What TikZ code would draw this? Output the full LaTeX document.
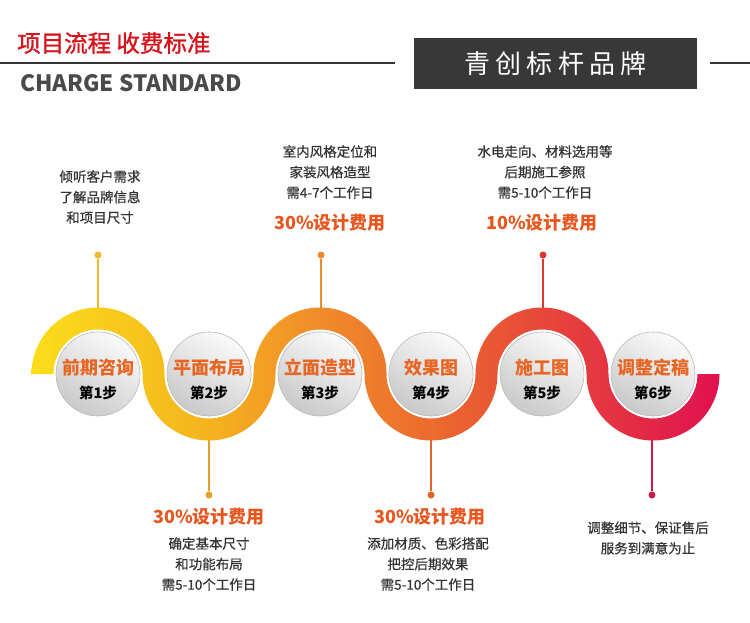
\documentclass[tikz,border=0pt]{standalone}
\usepackage{fontspec}
\setmainfont{Noto Sans CJK SC}
\newfontfamily\brandfont[LetterSpace=20]{Noto Sans CJK SC}
\newfontfamily\notefont[FakeBold=0.6]{Noto Sans CJK SC}
\newfontfamily\headfont[FakeBold=1.2]{Noto Sans CJK SC}
\usetikzlibrary{calc,positioning}
\definecolor{titlered}{RGB}{215,20,28}
\definecolor{textgray}{RGB}{52,52,52}
\definecolor{engray}{RGB}{74,74,74}
\definecolor{boxgray}{RGB}{56,56,56}
\definecolor{feeorange}{RGB}{232,86,30}
\definecolor{steporange}{RGB}{232,102,36}
\definecolor{wave1}{RGB}{250,222,26}
\definecolor{wave2}{RGB}{245,178,30}
\definecolor{wave3}{RGB}{240,139,43}
\definecolor{wave4}{RGB}{236,107,45}
\definecolor{wave5}{RGB}{231,72,58}
\definecolor{wave6}{RGB}{224,17,79}
\definecolor{linkA}{RGB}{242,184,41}
\definecolor{linkB}{RGB}{229,160,42}
\definecolor{linkC}{RGB}{238,138,43}
\definecolor{linkD}{RGB}{224,101,38}
\definecolor{linkE}{RGB}{224,57,42}
\definecolor{linkF}{RGB}{208,26,69}
\pgfdeclarehorizontalshading{wavefill}{100bp}{color(0bp)=(wave1); color(25bp)=(wave1); color(38bp)=(wave2); color(46bp)=(wave3); color(54bp)=(wave4); color(62bp)=(wave5); color(75bp)=(wave6); color(100bp)=(wave6)}
\tikzset{
  stepcircle/.style={circle, minimum size=84pt, inner sep=0, preaction={draw=white, line width=4pt}, top color=gray!4, bottom color=gray!42, shading angle=-30, draw=gray!55, line width=0.6pt},
  steptitle/.style={text=steporange, font=\fontsize{18}{22}\selectfont\bfseries, inner sep=0},
  stepno/.style={text=black, font=\fontsize{14.5}{18}\selectfont\bfseries, inner sep=0},
  dot/.style={circle, inner sep=0, minimum size=7pt},
  link/.style={line width=1.4pt},
  note/.style={align=center, text=textgray, font=\fontsize{13.5}{20.5}\selectfont\notefont, inner sep=0},
  fee/.style={text=feeorange, font=\fontsize{18}{22}\selectfont\bfseries, inner sep=0},
  rule/.style={line width=2pt, draw=black!80}
}
\begin{document}
\begin{tikzpicture}[x=1pt,y=-1pt]
\useasboundingbox[fill=white] (0,0) rectangle (750,622);

\node[anchor=west, inner sep=0, text=titlered, font=\fontsize{23.5}{26}\selectfont\headfont] (title) at (17,43) {项目流程 收费标准};
\node[anchor=west, inner sep=0, text=engray, font=\fontsize{22.5}{26}\selectfont\bfseries] (english) at (20,83) {CHARGE STANDARD};
\node[fill=boxgray, text=white, minimum width=283pt, minimum height=51pt, inner sep=0, font=\fontsize{26}{30}\selectfont\brandfont] (brand) at (555.5,63.5) {青创标杆品牌};
\draw[rule] (0,63) -- ([xshift=-19pt]brand.west |- 0,63);
\draw[rule] ([xshift=13pt]brand.east |- 0,63) -- (750,63);

\node[note] (n1) at (100,197) {倾听客户需求\\了解品牌信息\\和项目尺寸};
\node[note] (n3) at (330,172) {室内风格定位和\\家装风格造型\\需4-7个工作日};
\node[fee] (f3) at (330,223) {30\%设计费用};
\node[note] (n5) at (545,172) {水电走向、材料选用等\\后期施工参照\\需5-10个工作日};
\node[fee] (f5) at (542,223) {10\%设计费用};

\node[fee] (f2) at (209,517) {30\%设计费用};
\node[note] (n2) at (209,564) {确定基本尺寸\\和功能布局\\需5-10个工作日};
\node[fee] (f4) at (430,517) {30\%设计费用};
\node[note] (n4) at (428,564) {添加材质、色彩搭配\\把控后期效果\\需5-10个工作日};
\node[note] (n6) at (648,538) {调整细节、保证售后\\服务到满意为止};

\node[dot, fill=linkA] (d1) at (98,255) {};
\node[dot, fill=linkC] (d3) at (321,255) {};
\node[dot, fill=linkE] (d5) at (543,255) {};
\node[dot, fill=linkB] (d2) at (209,495) {};
\node[dot, fill=linkD] (d4) at (431,495) {};
\node[dot, fill=linkF] (d6) at (652,495) {};
\coordinate (a1) at (98,312);
\coordinate (a3) at (321,312);
\coordinate (a5) at (543,312);
\coordinate (a2) at (209,436);
\coordinate (a4) at (431,436);
\coordinate (a6) at (652,436);
\draw[link, linkA] (d1) -- (a1);
\draw[link, linkC] (d3) -- (a3);
\draw[link, linkE] (d5) -- (a5);
\draw[link, linkB] (d2) -- (a2);
\draw[link, linkD] (d4) -- (a4);
\draw[link, linkF] (d6) -- (a6);

\shade[shading=wavefill] (31.5,374)
  arc[start angle=180, end angle=360, radius=66.5]
  arc[start angle=180, end angle=0, radius=44.5]
  arc[start angle=180, end angle=360, radius=66.5]
  arc[start angle=180, end angle=0, radius=44.5]
  arc[start angle=180, end angle=360, radius=66.5]
  arc[start angle=180, end angle=0, radius=44.5]
  -- (719.5,374)
  arc[start angle=0, end angle=180, radius=66.5]
  arc[start angle=0, end angle=-180, radius=44.5]
  arc[start angle=0, end angle=180, radius=66.5]
  arc[start angle=0, end angle=-180, radius=44.5]
  arc[start angle=0, end angle=180, radius=66.5]
  arc[start angle=0, end angle=-180, radius=44.5]
  -- cycle;

\node[stepcircle] (s1) at (98,374) {};
\node[stepcircle] (s2) at (209,374) {};
\node[stepcircle] (s3) at (320,374) {};
\node[stepcircle] (s4) at (431,374) {};
\node[stepcircle] (s5) at (542,374) {};
\node[stepcircle] (s6) at (653,374) {};
\node[steptitle] (t1) at ([yshift=6pt]s1.center) {前期咨询};
\node[steptitle] (t2) at ([yshift=6pt]s2.center) {平面布局};
\node[steptitle] (t3) at ([yshift=6pt]s3.center) {立面造型};
\node[steptitle] (t4) at ([yshift=6pt]s4.center) {效果图};
\node[steptitle] (t5) at ([yshift=6pt]s5.center) {施工图};
\node[steptitle] (t6) at ([yshift=6pt]s6.center) {调整定稿};
\node[stepno] (p1) at ([yshift=-19pt]s1.center) {第1步};
\node[stepno] (p2) at ([yshift=-19pt]s2.center) {第2步};
\node[stepno] (p3) at ([yshift=-19pt]s3.center) {第3步};
\node[stepno] (p4) at ([yshift=-19pt]s4.center) {第4步};
\node[stepno] (p5) at ([yshift=-19pt]s5.center) {第5步};
\node[stepno] (p6) at ([yshift=-19pt]s6.center) {第6步};
\end{tikzpicture}
\end{document}
